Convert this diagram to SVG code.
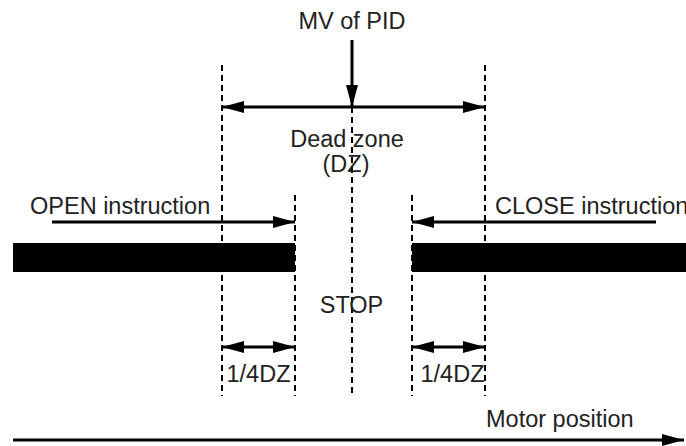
<svg xmlns="http://www.w3.org/2000/svg" width="686" height="446" viewBox="0 0 686 446">
<style>
text{font-family:"Liberation Sans",Arial,sans-serif;font-size:23.5px;fill:#222}
.dash{stroke:#000;stroke-width:2;stroke-dasharray:6 4;fill:none}
.ln{stroke:#000;stroke-width:3;fill:none}
</style>
<defs>
<marker id="ah" viewBox="0 0 22 12" refX="22" refY="6" markerWidth="22" markerHeight="12" markerUnits="userSpaceOnUse" orient="auto-start-reverse">
<path d="M0,0 L22,6 L0,12 Z" fill="#000"/>
</marker>
</defs>
<rect width="686" height="446" fill="#fff"/>
<g id="guides">
<line class="dash" x1="222" y1="65" x2="222" y2="396"/>
<line class="dash" x1="485" y1="65" x2="485" y2="396"/>
<line class="dash" x1="352" y1="107" x2="352" y2="396"/>
<line class="dash" x1="295" y1="195" x2="295" y2="396"/>
<line class="dash" x1="412" y1="195" x2="412" y2="396"/>
</g>
<g id="bars">
<rect x="13" y="243" width="282" height="29" fill="#000"/>
<rect x="412" y="243" width="274" height="29" fill="#000"/>
</g>
<g id="connectors">
<line class="ln" x1="352" y1="40" x2="352" y2="107" marker-end="url(#ah)"/>
<line class="ln" x1="222" y1="107" x2="485" y2="107" marker-start="url(#ah)" marker-end="url(#ah)"/>
<line class="ln" x1="52" y1="222" x2="295" y2="222" marker-end="url(#ah)"/>
<line class="ln" x1="656" y1="222" x2="412" y2="222" marker-end="url(#ah)"/>
<line class="ln" x1="222" y1="347" x2="295" y2="347" marker-start="url(#ah)" marker-end="url(#ah)"/>
<line class="ln" x1="412" y1="347" x2="485" y2="347" marker-start="url(#ah)" marker-end="url(#ah)"/>
<line class="ln" x1="13" y1="440" x2="684" y2="440" marker-end="url(#ah)"/>
</g>
<g id="labels">
<text x="352" y="29" text-anchor="middle">MV of PID</text>
<text x="347" y="147" text-anchor="middle">Dead zone</text>
<text x="346" y="172" text-anchor="middle">(DZ)</text>
<text x="30" y="214">OPEN instruction</text>
<text x="495" y="214">CLOSE instruction</text>
<text x="351.5" y="313" text-anchor="middle">STOP</text>
<text x="258.5" y="382" text-anchor="middle">1/4DZ</text>
<text x="452.5" y="382" text-anchor="middle">1/4DZ</text>
<text x="486" y="427">Motor position</text>
</g>
</svg>
